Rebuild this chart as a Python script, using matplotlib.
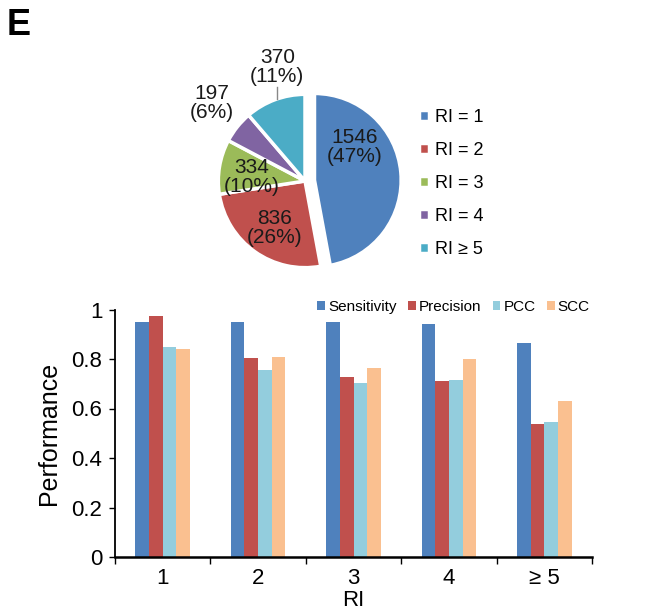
import matplotlib.pyplot as plt
import numpy as np

plt.rcParams["font.family"] = ["Liberation Sans", "DejaVu Sans"]

# RI distribution (pie)
ri_labels = ["RI = 1", "RI = 2", "RI = 3", "RI = 4", "RI \u2265 5"]
ri_counts = [1546, 836, 334, 197, 370]
ri_pcts = [47, 26, 10, 6, 11]
ri_colors = ["#4F81BD", "#C0504D", "#9BBB59", "#8064A2", "#4BACC6"]

# performance per RI group (bars)
groups = ["1", "2", "3", "4", "\u2265 5"]
sensitivity = [0.949, 0.949, 0.949, 0.942, 0.864]
precision = [0.972, 0.804, 0.726, 0.712, 0.539]
pcc = [0.848, 0.754, 0.702, 0.716, 0.546]
scc = [0.840, 0.809, 0.763, 0.801, 0.629]
metric_names = ["Sensitivity", "Precision", "PCC", "SCC"]
metric_colors = ["#4F81BD", "#C0504D", "#93CDDD", "#FAC090"]

W, H = 648, 613
fig = plt.figure(figsize=(W / 100, H / 100), dpi=100)

fig.text(7 / W, 1 - 8 / H, "E", fontsize=26, fontweight="bold", va="top", ha="left")

# ---- pie ----
cx, cy, half = 305, 181, 130
ax_pie = fig.add_axes([(cx - half) / W, (H - cy - half) / H, 2 * half / W, 2 * half / H])
wedges, _ = ax_pie.pie(ri_counts, colors=ri_colors, startangle=90, counterclock=False,
                       explode=[0.11, 0, 0, 0, 0],
                       wedgeprops=dict(edgecolor="white", linewidth=2.5))
ax_pie.set_xlim(-1.5, 1.5)
ax_pie.set_ylim(-1.5, 1.5)
ax_pie.set_aspect("equal")
ax_pie.axis("off")

label_pos = [(0.57, 0.39), (-0.35, -0.54), (-0.62, 0.05), (-1.07, 0.90), (-0.32, 1.32)]
for (x, y), n, p in zip(label_pos, ri_counts, ri_pcts):
    ax_pie.text(x, y, f"{n}\n({p}%)", ha="center", va="center", fontsize=15,
                linespacing=1.0, color="#1a1a1a")
ax_pie.plot([-0.32, -0.32], [0.95, 1.08], color="#888888", lw=1)

fig.legend(wedges, ri_labels, loc="upper left", bbox_to_anchor=(412 / W, 1 - 102 / H),
           frameon=False, fontsize=13, handlelength=0.55, handleheight=0.55,
           handletextpad=0.35, labelspacing=0.88, borderaxespad=0)

# ---- bars ----
ax = fig.add_axes([115 / W, (H - 557) / H, 477 / W, 247.5 / H])
x = np.arange(len(groups))
bw = 0.143
series = [sensitivity, precision, pcc, scc]
for i, (vals, name, col) in enumerate(zip(series, metric_names, metric_colors)):
    ax.bar(x + (i - 1.5) * bw, vals, width=bw, color=col, label=name)

ax.set_xlim(-0.5, len(groups) - 0.5)
ax.set_ylim(0, 1)
ax.set_yticks([0, 0.2, 0.4, 0.6, 0.8, 1])
ax.set_yticklabels(["0", "0.2", "0.4", "0.6", "0.8", "1"])
ax.set_xticks(np.arange(-0.5, len(groups)), labels=[])
ax.set_xticks(x, labels=groups, minor=True)
ax.tick_params(axis="x", which="major", direction="out", length=5, width=1)
ax.tick_params(axis="x", which="minor", length=0, pad=8, labelsize=16)
ax.tick_params(axis="y", direction="out", length=4, width=1, pad=5, labelsize=16)
for s in ["top", "right"]:
    ax.spines[s].set_visible(False)
ax.spines["left"].set_linewidth(1.3)
ax.spines["bottom"].set_linewidth(1.8)
ax.set_ylabel("Performance", fontsize=18, labelpad=8)
ax.set_xlabel("RI", fontsize=16, labelpad=1)

ax.legend(loc="center right", bbox_to_anchor=(596 / W, 1 - 307 / H),
          bbox_transform=fig.transFigure, ncol=4, frameon=False, fontsize=11,
          handlelength=0.5, handleheight=0.5, handletextpad=0.2,
          columnspacing=0.75, borderaxespad=0)

fig.savefig("out.png", dpi=100)
